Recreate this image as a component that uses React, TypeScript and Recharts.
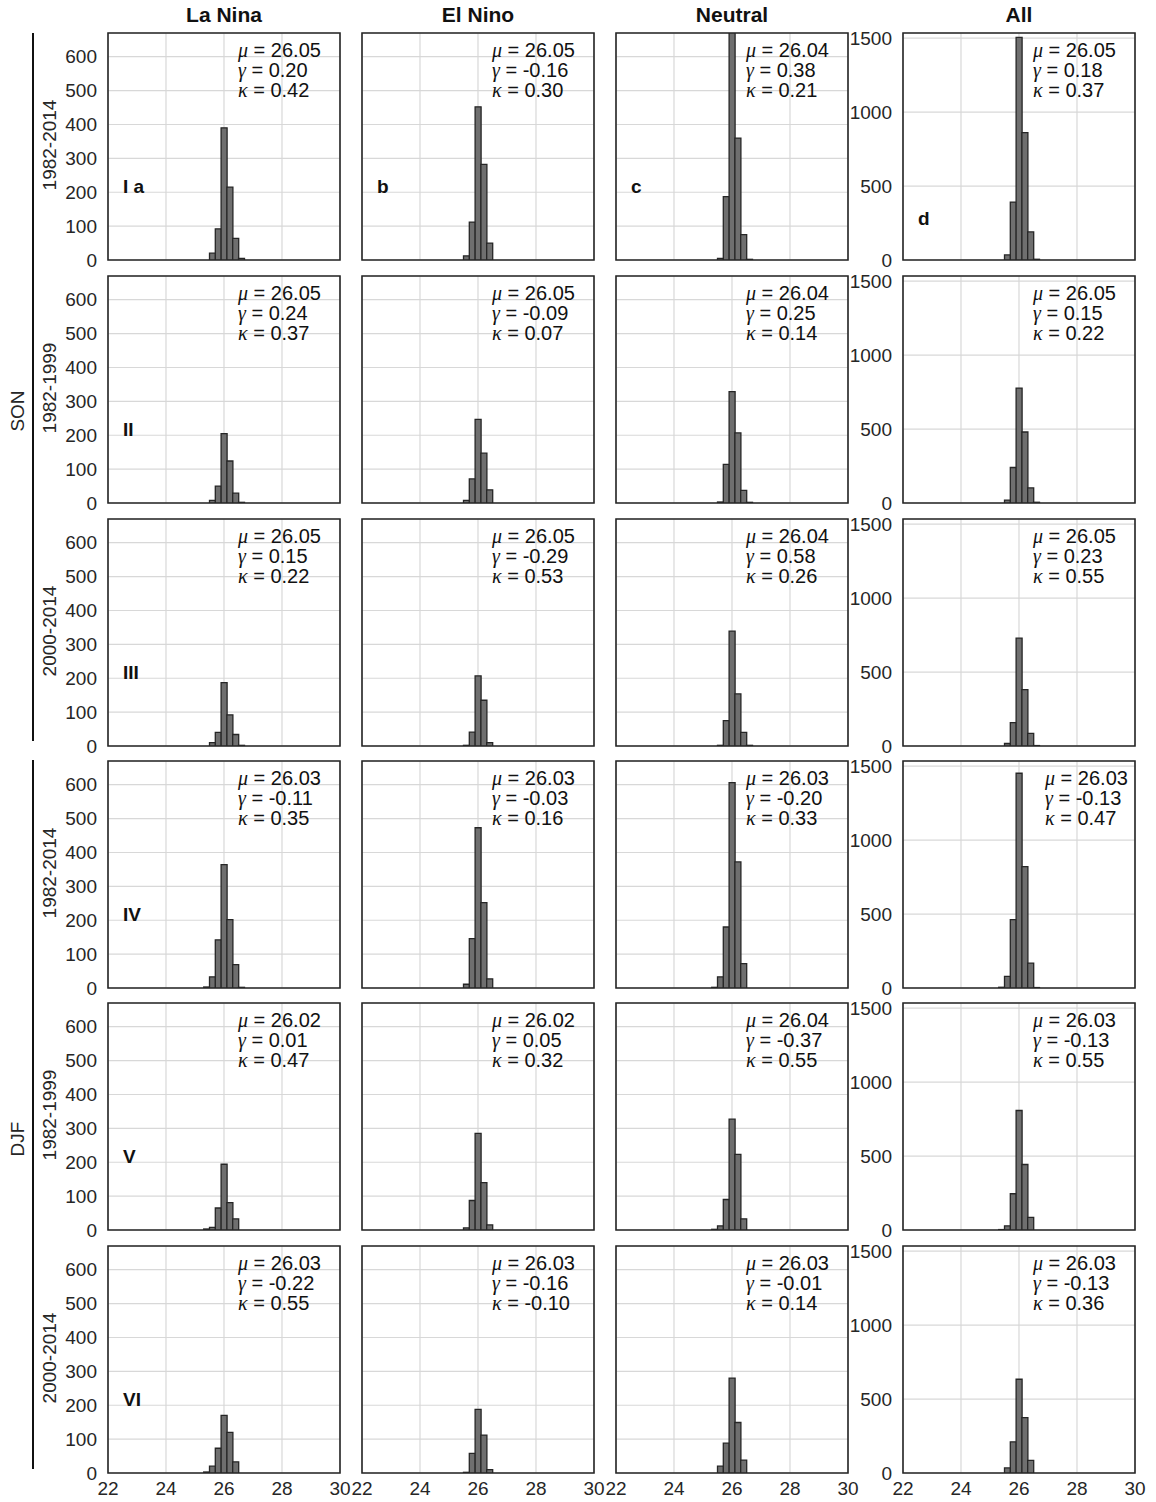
import { Bar, BarChart, CartesianGrid, ReferenceArea, XAxis, YAxis } from 'recharts'

// bin centres of the SST histograms (degC)
const binCenters = [25.4, 25.6, 25.8, 26.0, 26.2, 26.4, 26.6]

// counts per bin, one row per panel row (SON 82-14, 82-99, 00-14, DJF 82-14, 82-99, 00-14)
const laNina = [
  [0, 20, 92, 390, 215, 64, 5],
  [0, 8, 50, 205, 124, 29, 2],
  [0, 10, 40, 187, 92, 34, 2],
  [3, 33, 142, 364, 202, 69, 2],
  [3, 8, 65, 194, 81, 33, 0],
  [3, 20, 73, 170, 120, 33, 0],
]
const elNino = [
  [0, 12, 112, 452, 282, 50, 0],
  [0, 8, 71, 247, 147, 39, 0],
  [0, 2, 41, 207, 135, 10, 0],
  [0, 11, 146, 473, 252, 27, 0],
  [0, 6, 87, 285, 140, 15, 0],
  [0, 2, 58, 188, 112, 10, 0],
]
const neutral = [
  [0, 5, 187, 670, 360, 75, 2],
  [0, 3, 114, 329, 207, 37, 2],
  [0, 2, 75, 339, 154, 40, 2],
  [2, 33, 180, 606, 372, 72, 0],
  [2, 12, 90, 327, 223, 33, 0],
  [0, 20, 88, 280, 149, 38, 0],
]
const allYears = [
  [0, 34, 392, 1505, 861, 190, 5],
  [0, 20, 240, 777, 480, 102, 5],
  [0, 17, 158, 729, 381, 85, 3],
  [5, 78, 462, 1452, 821, 168, 3],
  [3, 28, 245, 808, 443, 85, 0],
  [0, 34, 211, 634, 375, 85, 0],
]

// mu, gamma, kappa
const statsLaNina = [
  ['26.05', '0.20', '0.42'],
  ['26.05', '0.24', '0.37'],
  ['26.05', '0.15', '0.22'],
  ['26.03', '-0.11', '0.35'],
  ['26.02', '0.01', '0.47'],
  ['26.03', '-0.22', '0.55'],
]
const statsElNino = [
  ['26.05', '-0.16', '0.30'],
  ['26.05', '-0.09', '0.07'],
  ['26.05', '-0.29', '0.53'],
  ['26.03', '-0.03', '0.16'],
  ['26.02', '0.05', '0.32'],
  ['26.03', '-0.16', '-0.10'],
]
const statsNeutral = [
  ['26.04', '0.38', '0.21'],
  ['26.04', '0.25', '0.14'],
  ['26.04', '0.58', '0.26'],
  ['26.03', '-0.20', '0.33'],
  ['26.04', '-0.37', '0.55'],
  ['26.03', '-0.01', '0.14'],
]
const statsAll = [
  ['26.05', '0.18', '0.37'],
  ['26.05', '0.15', '0.22'],
  ['26.05', '0.23', '0.55'],
  ['26.03', '-0.13', '0.47'],
  ['26.03', '-0.13', '0.55'],
  ['26.03', '-0.13', '0.36'],
]

const columnTitles = ['La Nina', 'El Nino', 'Neutral', 'All']
const periodLabels = ['1982-2014', '1982-1999', '2000-2014', '1982-2014', '1982-1999', '2000-2014']
const rowNumerals = ['I a', 'II', 'III', 'IV', 'V', 'VI']
const topLetters = ['', 'b', 'c', 'd']
const xTicks = [22, 24, 26, 28, 30]
const yTicksSmall = [0, 100, 200, 300, 400, 500, 600]
const yTicksAll = [0, 500, 1000, 1500]

const counts = [laNina, elNino, neutral, allYears]
const stats = [statsLaNina, statsElNino, statsNeutral, statsAll]

const BOX_W = 232
const BOX_H = 227
const COL_LEFT = [108, 362, 616, 903]
const ROW_TOP = [33, 276, 519, 761, 1003, 1246]
const PAD_L = 66
const PAD_T = 6
const PAD_R = 16
const PAD_B = 34
const Y_AXIS_W = 60
const X_AXIS_H = 28
const INK = '#262626'
const FONT = '"Liberation Sans", Arial, Helvetica, sans-serif'
const SERIF = '"Liberation Serif", "DejaVu Serif", serif'
const TICK_FONT = { fill: INK, fontSize: 19, fontFamily: FONT }

function Panel({ row, col }: { row: number; col: number }) {
  const isAll = col === 3
  const showY = col === 0 || isAll
  const showX = row === 5
  const yMax = isAll ? 1535 : 670
  const yTicks = isAll ? yTicksAll : yTicksSmall
  const data = binCenters.map((x, i) => ({ x, n: counts[col][row][i] }))
  const [mu, gamma, kappa] = stats[col][row]
  const letter = col === 0 ? rowNumerals[row] : row === 0 ? topLetters[col] : ''
  const statsShift = isAll && row === 3 ? 12 : 0

  return (
    <>
      <div style={{ position: 'absolute', left: COL_LEFT[col] - PAD_L, top: ROW_TOP[row] - PAD_T }}>
        <BarChart
          width={BOX_W + PAD_L + PAD_R}
          height={BOX_H + PAD_T + PAD_B}
          data={data}
          margin={{
            top: PAD_T,
            right: PAD_R,
            left: showY ? PAD_L - Y_AXIS_W : PAD_L,
            bottom: showX ? PAD_B - X_AXIS_H : PAD_B,
          }}
          barCategoryGap={0}
          barGap={0}
        >
          <CartesianGrid stroke="#d8d8d8" strokeWidth={1.2} />
          <XAxis
            type="number"
            dataKey="x"
            domain={[22, 30]}
            ticks={xTicks}
            hide={!showX}
            height={X_AXIS_H}
            tick={TICK_FONT}
            tickLine={false}
            axisLine={false}
            tickMargin={3}
            interval={0}
          />
          <XAxis xAxisId="top" orientation="top" type="number" dataKey="x" domain={[22, 30]} ticks={xTicks}
            mirror tick={false} axisLine={false} tickSize={4} tickLine={{ stroke: INK }} />
          <XAxis xAxisId="bottom" orientation="bottom" type="number" dataKey="x" domain={[22, 30]} ticks={xTicks}
            mirror tick={false} axisLine={false} tickSize={4} tickLine={{ stroke: INK }} />
          <YAxis
            type="number"
            domain={[0, yMax]}
            ticks={yTicks}
            hide={!showY}
            width={Y_AXIS_W}
            allowDataOverflow
            tick={TICK_FONT}
            tickLine={false}
            axisLine={false}
            tickMargin={5}
            interval={0}
          />
          <YAxis yAxisId="left" orientation="left" type="number" domain={[0, yMax]} ticks={yTicks}
            mirror tick={false} axisLine={false} tickSize={4} tickLine={{ stroke: INK }} />
          <YAxis yAxisId="right" orientation="right" type="number" domain={[0, yMax]} ticks={yTicks}
            mirror tick={false} axisLine={false} tickSize={4} tickLine={{ stroke: INK }} />
          <Bar dataKey="n" fill="#6f6f6f" stroke={INK} strokeWidth={1.3} isAnimationActive={false} />
          <ReferenceArea x1={22} x2={30} y1={0} y2={yMax} fill="none" stroke={INK} strokeWidth={1.6} />
        </BarChart>
      </div>
      <div
        style={{
          position: 'absolute',
          left: COL_LEFT[col] + 130 + statsShift,
          top: ROW_TOP[row] + 7,
          fontSize: 20,
          lineHeight: '20px',
          color: '#111',
          fontFamily: FONT,
          whiteSpace: 'nowrap',
        }}
      >
        <div>
          <i style={{ fontFamily: SERIF }}>μ</i> = {mu}
        </div>
        <div>
          <i style={{ fontFamily: SERIF }}>γ</i> = {gamma}
        </div>
        <div>
          <i style={{ fontFamily: SERIF }}>κ</i> = {kappa}
        </div>
      </div>
      {letter && (
        <div
          style={{
            position: 'absolute',
            left: COL_LEFT[col] + 15,
            top: ROW_TOP[row] + (isAll ? 175 : 143),
            fontSize: 19,
            fontWeight: 'bold',
            fontFamily: FONT,
            color: '#111',
            whiteSpace: 'nowrap',
          }}
        >
          {letter}
        </div>
      )}
    </>
  )
}

function Rotated({ text, cx, cy }: { text: string; cx: number; cy: number }) {
  return (
    <div
      style={{
        position: 'absolute',
        left: cx - 100,
        top: cy - 12,
        width: 200,
        height: 24,
        lineHeight: '24px',
        textAlign: 'center',
        transform: 'rotate(-90deg)',
        fontSize: 19,
        fontFamily: FONT,
        color: INK,
      }}
    >
      {text}
    </div>
  )
}

export default function App() {
  const rows = [0, 1, 2, 3, 4, 5]
  const cols = [0, 1, 2, 3]
  return (
    <div
      style={{
        position: 'absolute',
        left: 0,
        top: 0,
        width: 1156,
        height: 1502,
        background: '#fff',
        fontFamily: FONT,
      }}
    >
      {columnTitles.map((t, c) => (
        <div
          key={t}
          style={{
            position: 'absolute',
            left: COL_LEFT[c] + BOX_W / 2 - 100,
            top: 3,
            width: 200,
            textAlign: 'center',
            fontSize: 21,
            fontWeight: 'bold',
            color: '#111',
          }}
        >
          {t}
        </div>
      ))}
      <div style={{ position: 'absolute', left: 32, top: 33, width: 2, height: 708, background: '#111' }} />
      <div style={{ position: 'absolute', left: 32, top: 760, width: 2, height: 709, background: '#111' }} />
      <Rotated text="SON" cx={18} cy={411} />
      <Rotated text="DJF" cx={18} cy={1139} />
      {periodLabels.map((p, r) => (
        <Rotated key={r} text={p} cx={50} cy={ROW_TOP[r] + 112} />
      ))}
      {rows.map((r) => cols.map((c) => <Panel key={`${r}-${c}`} row={r} col={c} />))}
    </div>
  )
}
